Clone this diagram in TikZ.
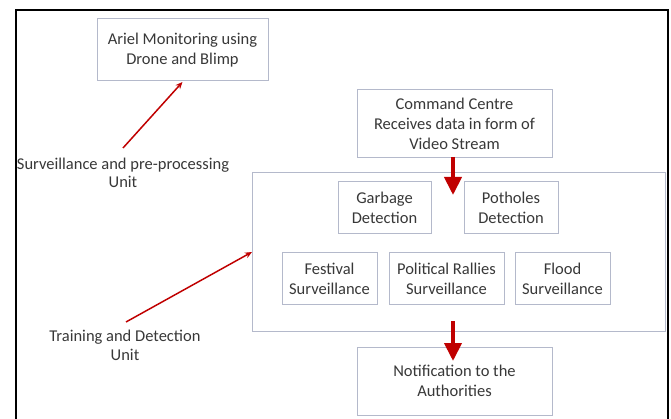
\documentclass[tikz,border=0pt]{standalone}
\usepackage{fontspec}
\setmainfont{Carlito}
\usetikzlibrary{arrows.meta}
\definecolor{boxline}{HTML}{B4B9CB}
\definecolor{arrred}{HTML}{C00000}
\definecolor{txt}{HTML}{383838}
\tikzset{
  box/.style={draw=boxline, line width=1pt, fill=white, rectangle, align=center, text=txt, inner sep=0pt},
  lbl/.style={align=center, text=txt, inner sep=0pt},
  thick arrow/.style={draw=arrred, line width=4pt, -{Triangle[width=17pt,length=18pt]}},
  thin arrow/.style={draw=arrred, line width=1.5pt, -{Stealth[width=6pt,length=7pt]}},
}
\begin{document}
\begin{tikzpicture}[x=1pt,y=-1pt, font=\fontsize{16.5}{20}\selectfont]
\useasboundingbox (0,0) rectangle (671,419);
\fill[white] (0,0) rectangle (671,419);
\draw[black, line width=2.5pt] (16,425) -- (16,10) -- (668,10) -- (668,425);

\node[box, minimum width=171pt, minimum height=62pt] (ariel) at (182.5,50) {Ariel Monitoring using\\Drone and Blimp};
\node[box, minimum width=195pt, minimum height=68pt] (cmd) at (454.5,124) {Command Centre\\Receives data in form of\\Video Stream};
\node[box, minimum width=413pt, minimum height=158pt] (cont) at (458.5,252) {};
\node[box, minimum width=93pt, minimum height=52pt] (garb) at (384.5,208) {Garbage\\Detection};
\node[box, minimum width=94pt, minimum height=52pt] (pot) at (511,208) {Potholes\\Detection};
\node[box, minimum width=95pt, minimum height=51pt] (fest) at (329.5,278.5) {Festival\\Surveillance};
\node[box, minimum width=115pt, minimum height=51pt] (pol) at (446.5,278.5) {Political Rallies\\Surveillance};
\node[box, minimum width=95pt, minimum height=51pt] (flood) at (562.5,278.5) {Flood\\Surveillance};
\node[box, minimum width=195pt, minimum height=68pt] (notif) at (454.5,381) {Notification to the\\Authorities};

\node[lbl, font=\fontsize{16.5}{18}\selectfont] (surv) at (123,173) {Surveillance and pre-processing\\Unit};
\node[lbl, font=\fontsize{16.5}{19}\selectfont] (train) at (125,345) {Training and Detection\\Unit};

\coordinate (c1s) at (453,157);
\coordinate (c1e) at (453,195);
\coordinate (c2s) at (453,321);
\coordinate (c2e) at (453,361);
\draw[thick arrow] (c1s) -- (c1e);
\draw[thick arrow] (c2s) -- (c2e);

\coordinate (a1s) at (123,148);
\coordinate (a1e) at (182.5,82);
\coordinate (a2s) at (126,322);
\coordinate (a2e) at (252,252);
\draw[thin arrow] (a1s) -- (a1e);
\draw[thin arrow] (a2s) -- (a2e);
\end{tikzpicture}
\end{document}
